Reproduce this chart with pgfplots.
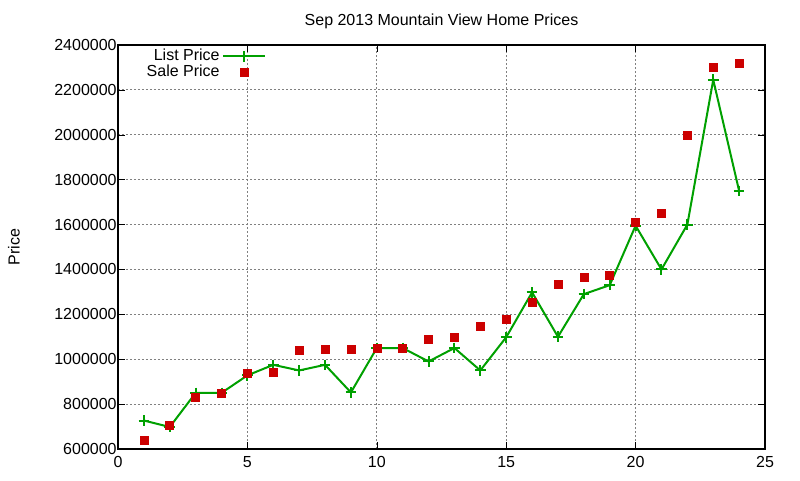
\documentclass[border=0pt]{standalone}
\usepackage{fontspec}
\setmainfont{Liberation Sans}
\usepackage{pgfplots}
\pgfplotsset{compat=1.18}
\definecolor{lgreen}{RGB}{0,160,0}
\definecolor{sred}{RGB}{204,0,0}
\begin{document}
\begin{tikzpicture}
\path[use as bounding box] (-88.5pt,-23.25pt) rectangle (511.5pt,336.75pt);
\begin{axis}[
  scale only axis,
  width=485.25pt, height=303pt,
  xmin=0, xmax=25, ymin=600000, ymax=2400000,
  xtick={0,5,10,15,20,25},
  ytick={600000,800000,1000000,1200000,1400000,1600000,1800000,2000000,2200000,2400000},
  scaled y ticks=false,
  /pgf/number format/assume math mode=true,
  yticklabel={\pgfmathprintnumber[fixed,1000 sep={},precision=0]{\tick}},
  tick label style={font=\fontsize{12}{12}\selectfont},
  yticklabel style={xshift=2.5pt},
  xticklabel style={yshift=-2pt},
  tick align=inside,
  tick style={black, thin},
  major tick length=5.5pt,
  axis line style={black, line width=0.8pt},
  grid=major,
  major grid style={gray, line width=0.6pt, dash pattern=on 1.5pt off 1.5pt},
  title={Sep 2013 Mountain View Home Prices},
  title style={font=\fontsize{12}{12}\selectfont, yshift=2.5pt},
  ylabel={Price},
  ylabel style={font=\fontsize{12}{12}\selectfont, yshift=19pt},
  legend style={at={(0.236,1.003)}, anchor=north east, draw=none, fill=none,
    font=\fontsize{12}{12}\selectfont, row sep=-2.5pt},
  legend cell align=right,
  legend plot pos=right,
]
\addplot[lgreen, line width=1.5pt, mark=+, mark size=4pt,
  mark options={line width=1.5pt},
  legend image code/.code={\draw[mark repeat=2,mark phase=2] plot coordinates {(0.1cm,0cm)(0.655cm,0cm)(1.21cm,0cm)};}]
coordinates {
(1,727000) (2,698000) (3,850000) (4,850000) (5,928000) (6,975000)
(7,950000) (8,975000) (9,852000) (10,1050000) (11,1050000) (12,990000)
(13,1050000) (14,950000) (15,1098000) (16,1298000) (17,1100000) (18,1290000)
(19,1330000) (20,1595000) (21,1400000) (22,1600000) (23,2245000) (24,1750000)
};
\addlegendentry{List Price}
\addplot[only marks, mark=square*, mark size=3pt, color=sred, mark options={draw=sred, fill=sred},
  legend image code/.code={\draw[mark repeat=2,mark phase=2] plot coordinates {(0.1cm,0cm)(0.655cm,0cm)(1.21cm,0cm)};}]
coordinates {
(1,638000) (2,705000) (3,829000) (4,850000) (5,939000) (6,940000)
(7,1038000) (8,1043000) (9,1046000) (10,1050000) (11,1050000) (12,1091000)
(13,1100000) (14,1149000) (15,1176000) (16,1256000) (17,1336000) (18,1367000)
(19,1376000) (20,1610000) (21,1652000) (22,2000000) (23,2300000) (24,2318000)
};
\addlegendentry{Sale Price}
\end{axis}
\end{tikzpicture}
\end{document}
